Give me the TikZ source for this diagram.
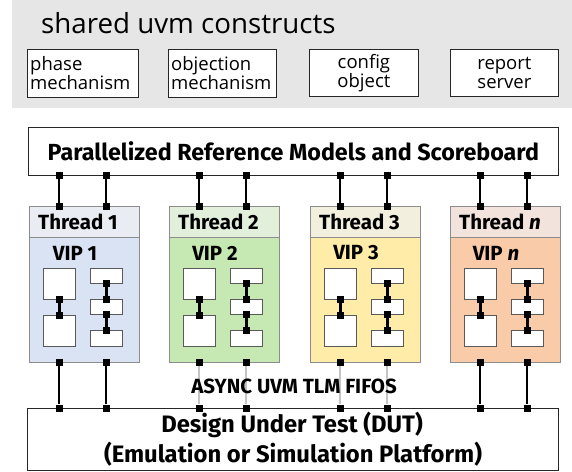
\documentclass[tikz,border=0pt]{standalone}
\usepackage{fontspec}
\setmainfont{Open Sans}
\newfontfamily\bfam{Fira Sans}
\definecolor{topgray}{HTML}{E6E6E6}
\definecolor{hA}{HTML}{E9ECF2}\definecolor{bA}{HTML}{DAE3F3}
\definecolor{hB}{HTML}{E2EFDA}\definecolor{bB}{HTML}{C6E9B3}
\definecolor{hC}{HTML}{F2EFDF}\definecolor{bC}{HTML}{FFECA8}
\definecolor{hD}{HTML}{F2E4DC}\definecolor{bD}{HTML}{F9CBA9}
\definecolor{thb}{HTML}{8C8C8C}
\definecolor{lgray}{HTML}{C4C4C4}
\tikzset{
  cbox/.style={draw=black!85, line width=0.8pt, fill=white, anchor=north west, inner sep=0pt},
  thbox/.style={draw=thb, line width=0.8pt, anchor=north west, inner sep=0pt, minimum width=110pt},
  ibox/.style={draw=black!65, line width=0.8pt, fill=white, anchor=north west, inner sep=0pt, minimum width=32pt},
  sq/.style={fill=black, draw=none, minimum size=7pt, inner sep=0pt},
  conn/.style={line width=2.8pt, draw=black},
  gconn/.style={line width=2.8pt, draw=lgray},
  bigbold/.style={font=\bfam\bfseries\fontsize{23.3}{26}\selectfont},
  dutbold/.style={font=\bfam\bfseries\fontsize{23.8}{26}\selectfont},
  thlab/.style={font=\bfam\bfseries\fontsize{20.5}{22}\selectfont},
  smalltxt/.style={font=\fontsize{18.5}{19.5}\selectfont, align=left},
}
\begin{document}
\begin{tikzpicture}[x=1pt,y=-1pt]
\useasboundingbox (0,0) rectangle (572,471);
% top shared constructs
\fill[topgray] (12,0) rectangle (572,108);
\node[anchor=base west, font=\fontsize{27.7}{32}\selectfont, inner sep=0pt] (title) at (41,33) {shared uvm constructs};
\node[cbox, minimum width=111pt, minimum height=48pt] (phase) at (27,49) {};
\node[smalltxt, anchor=west, inner sep=0pt] (phaset) at (30,73) {phase\\mechanism};
\node[cbox, minimum width=108pt, minimum height=48pt] (obj) at (168,49) {};
\node[smalltxt, anchor=west, inner sep=0pt] (objt) at (171,73) {objection\\mechanism};
\node[cbox, minimum width=109pt, minimum height=47pt] (cfg) at (309,49) {};
\node[smalltxt, align=center, inner sep=0pt] (cfgt) at (cfg.center) {config\\object};
\node[cbox, minimum width=108pt, minimum height=47pt] (rep) at (450,49) {};
\node[smalltxt, align=center, inner sep=0pt] (rept) at (rep.center) {report\\server};
% reference models box
\node[cbox, minimum width=530pt, minimum height=48pt] (prm) at (28,127) {};
\node[bigbold, inner sep=0pt] (prmt) at (prm.center) {Parallelized Reference Models and Scoreboard};
% DUT box
\node[cbox, minimum width=531pt, minimum height=62pt] (dut) at (27,408) {};
\node[dutbold, inner sep=0pt] (dutt1) at (292,425) {Design Under Test (DUT)};
\node[dutbold, inner sep=0pt] (dutt2) at (293,454) {(Emulation or Simulation Platform)};
% threads
\foreach \i/\x/\hc/\bc/\lab/\vip/\bs in {1/29/hA/bA/{Thread 1}/{VIP 1}/conn, 2/169/hB/bB/{Thread 2}/{VIP 2}/gconn, 3/310/hC/bC/{Thread 3}/{VIP 3}/gconn, 4/450/hD/bD/{Thread \textit{n}}/{VIP \textit{n}}/conn}{
  \node[thbox, fill=\hc, minimum height=31pt] (th\i) at (\x,206) {};
  \node[thbox, fill=\bc, minimum height=125pt] (vip\i) at (\x,237) {};
  \node[thlab, anchor=west, inner sep=0pt] (thl\i) at (\x+9,221.5) {\lab};
  \node[thlab, inner sep=0pt] (vipl\i) at (\x+46,253) {\vip};
  \node[ibox, minimum height=31pt] (ba\i) at (\x+14,268) {};
  \node[ibox, minimum height=31pt] (bb\i) at (\x+14,315) {};
  \node[ibox, minimum height=15pt] (sa\i) at (\x+61,268) {};
  \node[ibox, minimum height=15pt] (sb\i) at (\x+61,299) {};
  \node[ibox, minimum height=16pt] (sc\i) at (\x+61,330) {};
  % top connectors
  \node[sq] (pt1\i) at (\x+30,175) {};
  \node[sq] (pb1\i) at (\x+30,206) {};
  \node[sq] (pt2\i) at (\x+77,175) {};
  \node[sq] (pb2\i) at (\x+77,206) {};
  \draw[conn] (pt1\i.center) -- (pb1\i.center);
  \draw[conn] (pt2\i.center) -- (pb2\i.center);
  % bottom connectors
  \node[sq] (dt1\i) at (\x+30,362) {};
  \node[sq] (db1\i) at (\x+30,408) {};
  \node[sq] (dt2\i) at (\x+77,362) {};
  \node[sq] (db2\i) at (\x+77,408) {};
  \draw[\bs] (dt1\i.south) -- (db1\i.north);
  \draw[\bs] (dt2\i.south) -- (db2\i.north);
  % inner connectors
  \node[sq] (ia\i) at (ba\i.south) {};
  \node[sq] (ib\i) at (bb\i.north) {};
  \draw[conn] (ia\i.center) -- (ib\i.center);
  \node[sq] (ja\i) at (sa\i.south) {};
  \node[sq] (jb\i) at (sb\i.north) {};
  \draw[conn] (ja\i.center) -- (jb\i.center);
  \node[sq] (ka\i) at (sb\i.south) {};
  \node[sq] (kb\i) at (sc\i.north) {};
  \draw[conn] (ka\i.center) -- (kb\i.center);
}
\node[font=\bfam\bfseries\fontsize{20.5}{22}\selectfont, inner sep=0pt] (fifo) at (294,386) {ASYNC UVM TLM FIFOS};
\end{tikzpicture}
\end{document}
